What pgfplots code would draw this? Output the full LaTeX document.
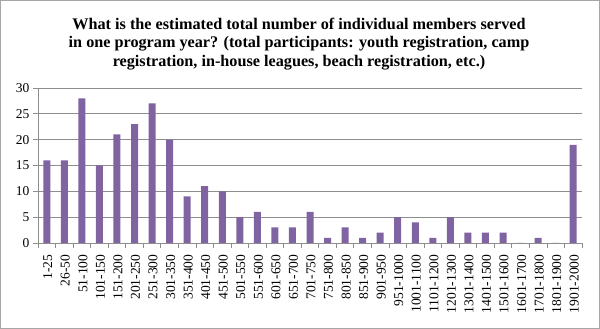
\documentclass[border=0pt]{standalone}
\usepackage{fontspec}
\setmainfont{Liberation Serif}
\usepackage{pgfplots}
\pgfplotsset{compat=1.18}
\definecolor{barpurple}{HTML}{8064A2}
\definecolor{gridgray}{HTML}{8E8E8E}
\definecolor{framegray}{HTML}{A6A6A6}
\begin{document}
\begin{tikzpicture}[x=1pt,y=1pt]
\draw[framegray, line width=1pt] (0.5,0.5) rectangle (599.5,328.5);
\node[align=center, font=\bfseries\fontsize{16.2}{18.8}\selectfont] at (299,285)
 {What is the estimated total number of individual members served\\
  in one program year? (total participants: youth registration, camp\\
  registration, in-house leagues, beach registration, etc.)};
\begin{axis}[
  at={(38pt,86pt)}, anchor=south west,
  scale only axis, width=544pt, height=155pt,
  xmin=-0.5, xmax=30.5, ymin=0, ymax=30,
  ytick={0,5,...,30},
  xtick={0,...,30},
  xticklabels={1-25,26-50,51-100,101-150,151-200,201-250,251-300,301-350,351-400,401-450,451-500,501-550,551-600,601-650,651-700,701-750,751-800,801-850,851-900,901-950,951-1000,1001-1100,1101-1200,1201-1300,1301-1400,1401-1500,1501-1600,1601-1700,1701-1800,1801-1900,1901-2000},
  minor xtick={-0.5,0.5,...,30.5},
  minor ytick={0,5,...,30},
  major tick length=0pt, minor tick length=5pt,
  tick align=outside,
  minor tick style={gridgray, line width=0.8pt},
  ymajorgrids, grid style={gridgray, line width=0.8pt},
  axis x line*=bottom, axis y line*=left,
  axis line style={-, gridgray, line width=0.8pt},
  x tick label style={rotate=90, anchor=east, font=\fontsize{13.5}{13.5}\selectfont, yshift=-1pt, xshift=-8pt},
  y tick label style={font=\fontsize{13.5}{13.5}\selectfont, xshift=-5pt},
  /pgf/number format/assume math mode=true,
  ybar, bar width=7pt, bar shift=0pt,
]
\addplot[fill=barpurple, draw=none] coordinates {
(0,16) (1,16) (2,28) (3,15) (4,21) (5,23) (6,27) (7,20) (8,9) (9,11)
(10,10) (11,5) (12,6) (13,3) (14,3) (15,6) (16,1) (17,3) (18,1) (19,2)
(20,5) (21,4) (22,1) (23,5) (24,2) (25,2) (26,2) (27,0) (28,1) (29,0) (30,19)};
\end{axis}
\end{tikzpicture}
\end{document}
